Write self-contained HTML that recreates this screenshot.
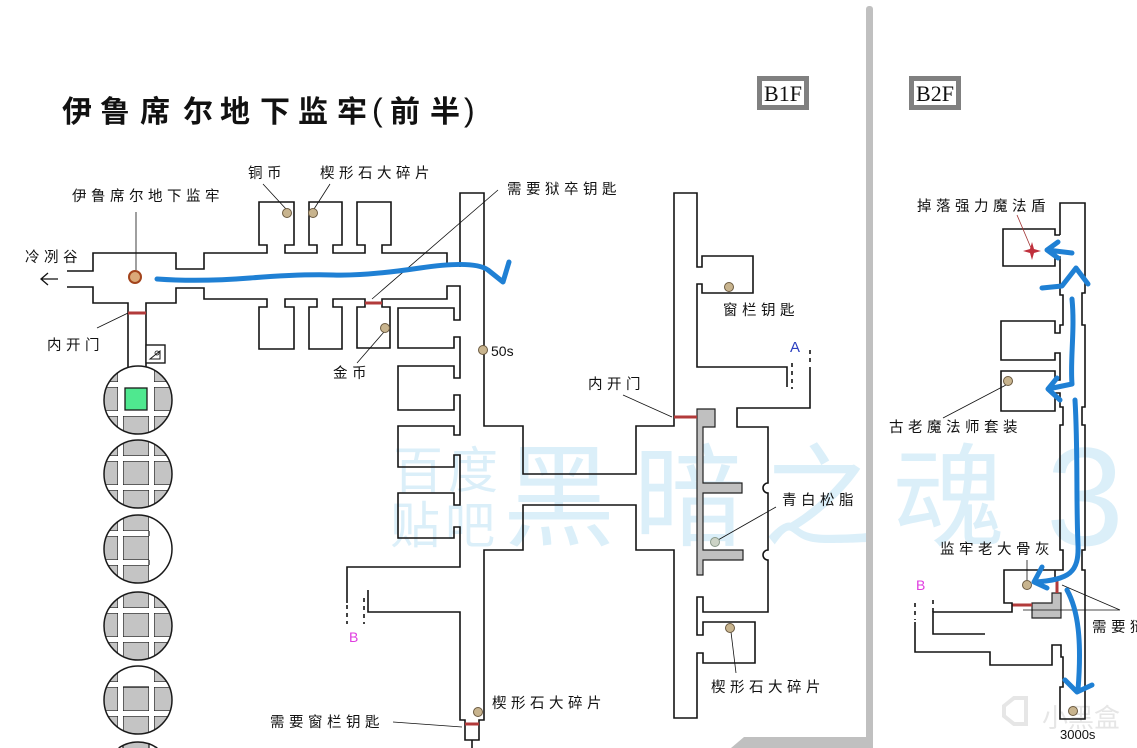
<!DOCTYPE html>
<html><head><meta charset="utf-8">
<style>
html,body{margin:0;padding:0;background:#fff;width:1137px;height:748px;overflow:hidden;}
svg{display:block;overflow:hidden;}
.w{fill:none;stroke:#141414;stroke-width:1.6;stroke-linejoin:miter;}
.d{fill:none;stroke:#141414;stroke-width:1.6;stroke-dasharray:4 4;}
.ln{stroke:#111;stroke-width:0.8;fill:none;}
.t{font-family:"Liberation Sans","Noto Sans CJK SC",sans-serif;font-size:14.5px;letter-spacing:4.5px;fill:#111;}
.ti{font-family:"Liberation Sans","Noto Sans CJK SC",sans-serif;font-size:30px;font-weight:bold;fill:#111;}
.red{stroke:#b23a3a;stroke-width:3;fill:none;}
.blue{stroke:#1f80d4;stroke-width:5;fill:none;stroke-linecap:round;stroke-linejoin:round;}
.dot{fill:#c8b48e;stroke:#6b5a40;stroke-width:1;}
.wm{font-family:"Liberation Sans","Noto Sans CJK SC",sans-serif;fill:#dbeff9;}
.gr{fill:#c4c4c4;}
.st{fill:#fff;stroke:#1a1a1a;stroke-width:1.2;}
.sn{fill:#fff;stroke:none;}
</style></head>
<body>
<svg width="1137" height="748" viewBox="0 0 1137 748" xmlns="http://www.w3.org/2000/svg">
<defs><clipPath id="cc"><circle cx="0" cy="0" r="34"/></clipPath>
<clipPath id="cap"><path d="M118.7,748 A34,34 0 0 1 157.3,748 Z"/></clipPath></defs>

<!-- watermarks -->
<text class="wm" x="393" y="488" font-size="50" letter-spacing="5">百度</text>
<text class="wm" x="390" y="543" font-size="50" letter-spacing="5">贴吧</text>
<text class="wm" x="503" y="537" font-size="112" letter-spacing="18">黑暗之魂</text>
<text class="wm" x="1046" y="545" font-size="140" style="font-family:'Liberation Sans',sans-serif">3</text>
<text x="1042" y="727" font-size="26" fill="#e6e6e6" style="font-family:'Liberation Sans','Noto Sans CJK SC',sans-serif">小黑盒</text>
<path d="M1004,706 l10,-8 l12,0 l0,26 l-12,0 l-10,-8 z" fill="none" stroke="#e6e6e6" stroke-width="4"/>

<!-- dividers -->
<rect x="866" y="6" width="7" height="736" rx="3" fill="#c0c0c0"/>
<polygon points="731,748 744,737 873,737 873,748" fill="#c0c0c0"/>

<!-- title -->
<text class="ti" x="62" y="122">伊</text>
<text class="ti" x="100" y="122">鲁</text>
<text class="ti" x="140" y="122">席</text>
<text class="ti" x="183" y="122">尔</text>
<text class="ti" x="220" y="122">地</text>
<text class="ti" x="260" y="122">下</text>
<text class="ti" x="298" y="122">监</text>
<text class="ti" x="337" y="122">牢</text>
<text x="372" y="121" font-size="32" fill="#111" style="font-family:'Liberation Sans',sans-serif">(</text>
<text class="ti" x="390" y="122">前</text>
<text class="ti" x="430" y="122">半</text>
<text x="464" y="121" font-size="32" fill="#111" style="font-family:'Liberation Sans',sans-serif">)</text>

<!-- floor labels -->
<rect x="759.5" y="78.5" width="47" height="29" fill="#fff" stroke="#808080" stroke-width="5"/>
<text x="783" y="101" font-size="22" text-anchor="middle" fill="#111" style="font-family:'Liberation Serif',serif">B1F</text>
<rect x="911.5" y="78.5" width="47" height="29" fill="#fff" stroke="#808080" stroke-width="5"/>
<text x="935" y="101" font-size="22" text-anchor="middle" fill="#111" style="font-family:'Liberation Serif',serif">B2F</text>

<!-- B1F walls -->
<path class="w" d="M67,271 H93 V253 H176 V269 H204 V253 H267 V245 H259 V202 H294 V245 H285 V253 H317 V245 H309 V202 H342 V245 H333 V253 H365 V245 H357 V202 H391 V245 H382 V253 H447 V267"/>
<path class="w" d="M67,287 H93 V303 H128 V367"/>
<path class="w" d="M347,603 V567 H460 V527 H454 V538 H398 V493 H454 V505 H460 V455 H454 V467 H398 V426 H454 V435 H460 V395 H454 V410 H398 V366 H454 V378 H460 V337 H454 V348 H398 V308 H454 V320 H460 V286 H447 V299 H382 V307 H390 V348 H357 V307 H365 V299 H333 V307 H342 V349 H309 V307 H317 V299 H285 V307 H294 V349 H259 V307 H267 V299 H204 V288 H176 V303 H146 V367"/>
<path class="w" d="M460,267 V193 H484 V426 H523 V474 H636 V426 H674 V193 H697 V267 H702 V256 H753 V293 H702 V284 H697 V367 H787 V387"/>
<path class="w" d="M810,367 V408 H737 V427 H768 V483 A5,5 0 0 0 768,493 V550 A5,5 0 0 0 768,560 V612 H703 V597 H697 V635 H703 V622 H755 V663 H703 V653 H697 V718 H674 V550 H636 V505 H523 V550 H484 V720 H479 V740 H465 V720 H460 V612 H368 V590"/>
<path class="d" d="M792,363 V389 M810,350 V366 M347,605 V624 M364,598 V624"/>
<path class="w" d="M472,740 V748"/>
<!-- small icon box -->
<rect x="146" y="345" width="19" height="18" fill="#fff" stroke="#1a1a1a" stroke-width="1.4"/>
<path d="M150,359 L160,359 L160,351 Z" fill="none" stroke="#1a1a1a" stroke-width="1"/>
<circle cx="157" cy="353" r="2" fill="none" stroke="#1a1a1a" stroke-width="0.8"/>

<!-- gray blocks -->
<polygon points="697,409 715,409 715,427 703,427 703,483 742,483 742,493 703,493 703,550 743,550 743,560 703,560 703,575 697,575" fill="#c0c0c0" stroke="#222" stroke-width="1.2"/>
<polygon points="1052,593 1061,593 1061,618 1032,618 1032,603 1052,603" fill="#c0c0c0" stroke="#222" stroke-width="1.2"/>

<!-- circles -->
<g transform="translate(138,400)"><g clip-path="url(#cc)">
<rect x="-40" y="-40" width="80" height="80" class="gr"/>
<rect x="-20" y="-40" width="5" height="80" class="st"/><rect x="11" y="-40" width="5" height="80" class="st"/>
<rect x="-40" y="-18" width="80" height="5" class="st"/><rect x="-40" y="11" width="80" height="5" class="st"/>
<rect x="-20" y="-40" width="5" height="80" class="sn"/><rect x="11" y="-40" width="5" height="80" class="sn"/>
<rect x="-40" y="-18" width="80" height="5" class="sn"/><rect x="-40" y="11" width="80" height="5" class="sn"/>
<rect x="-20" y="-40" width="36" height="51" class="sn"/>
<rect x="-13" y="-12" width="22" height="22" fill="#4fe88f" stroke="#1a1a1a" stroke-width="1.3"/>
</g><circle r="34" fill="none" stroke="#1a1a1a" stroke-width="1.5"/></g>

<g transform="translate(138,474)"><g clip-path="url(#cc)">
<rect x="-40" y="-40" width="80" height="80" class="gr"/>
<rect x="-20" y="-40" width="5" height="80" class="st"/><rect x="11" y="-40" width="5" height="80" class="st"/>
<rect x="-40" y="-18" width="80" height="5" class="st"/><rect x="-40" y="11" width="80" height="5" class="st"/>
<rect x="-20" y="-40" width="5" height="80" class="sn"/><rect x="11" y="-40" width="5" height="80" class="sn"/>
<rect x="-40" y="-18" width="80" height="5" class="sn"/><rect x="-40" y="11" width="80" height="5" class="sn"/>
</g><circle r="34" fill="none" stroke="#1a1a1a" stroke-width="1.5"/></g>

<g transform="translate(138,549)"><g clip-path="url(#cc)">
<rect x="-40" y="-40" width="80" height="80" class="gr"/>
<rect x="-20" y="-40" width="5" height="80" class="st"/><rect x="11" y="-40" width="5" height="80" class="st"/>
<rect x="-40" y="-18" width="80" height="5" class="st"/><rect x="-40" y="11" width="80" height="5" class="st"/>
<rect x="-20" y="-40" width="5" height="80" class="sn"/><rect x="11" y="-40" width="5" height="80" class="sn"/>
<rect x="-40" y="-18" width="80" height="5" class="sn"/><rect x="-40" y="11" width="80" height="5" class="sn"/>
<rect x="11" y="-40" width="40" height="80" class="sn"/>
<path d="M11,-18 V-13 M11,11 V16" stroke="#1a1a1a" stroke-width="1.2"/>
</g><circle r="34" fill="none" stroke="#1a1a1a" stroke-width="1.5"/></g>

<g transform="translate(138,626)"><g clip-path="url(#cc)">
<rect x="-40" y="-40" width="80" height="80" class="gr"/>
<rect x="-20" y="-40" width="5" height="80" class="st"/><rect x="11" y="-40" width="5" height="80" class="st"/>
<rect x="-40" y="-18" width="80" height="5" class="st"/><rect x="-40" y="11" width="80" height="5" class="st"/>
<rect x="-20" y="-40" width="5" height="80" class="sn"/><rect x="11" y="-40" width="5" height="80" class="sn"/>
<rect x="-40" y="-18" width="80" height="5" class="sn"/><rect x="-40" y="11" width="80" height="5" class="sn"/>
</g><circle r="34" fill="none" stroke="#1a1a1a" stroke-width="1.5"/></g>

<g transform="translate(138,700)"><g clip-path="url(#cc)">
<rect x="-40" y="-40" width="80" height="80" class="gr"/>
<rect x="-20" y="-40" width="5" height="80" class="st"/><rect x="11" y="-40" width="5" height="80" class="st"/>
<rect x="-40" y="-18" width="80" height="5" class="st"/><rect x="-40" y="11" width="80" height="5" class="st"/>
<rect x="-20" y="-40" width="5" height="80" class="sn"/><rect x="11" y="-40" width="5" height="80" class="sn"/>
<rect x="-40" y="-18" width="80" height="5" class="sn"/><rect x="-40" y="11" width="80" height="5" class="sn"/>
<rect x="-20" y="-40" width="36" height="27" class="sn"/>
<path d="M-15,-13 H11" stroke="#1a1a1a" stroke-width="1.2"/>
</g><circle r="34" fill="none" stroke="#1a1a1a" stroke-width="1.5"/></g>

<!-- partial 6th circle (cap only, inside frame) -->
<g clip-path="url(#cap)">
<rect x="118" y="741" width="40" height="7" class="gr"/>
<rect x="118" y="741" width="5" height="7" class="sn"/>
<rect x="149" y="741" width="5" height="7" class="sn"/>
<path d="M123,741 V748 M149,741 V748" stroke="#1a1a1a" stroke-width="1.2"/>
</g>
<path d="M118.7,748 A34,34 0 0 1 157.3,748" fill="none" stroke="#1a1a1a" stroke-width="1.5"/>

<!-- red doors -->
<path class="red" d="M128,313 H146 M365,303 H382 M674,417 H697 M465,724 H479 M1057,577 V593 M1012,605 H1032"/>

<!-- B2F walls -->
<path class="w" d="M1060,235 H1055 V229 H1003 V266 H1055 V257 H1060 V295 H1063 V325 H1060 V333 H1055 V321 H1001 V360 H1055 V353 H1060 V380 H1055 V371 H1001 V411 H1055 V393 H1060 V407 H1063 V425 H1060 V550 H1063 V570 H1004 V603 H1012 V612 H933 V634 H985"/>
<path class="w" d="M1060,235 V203 H1085 V293 H1082 V325 H1085 V407 H1082 V425 H1085 V550 H1082 V570 H1085 V719 H1060 V687 H1063 V657 H1061 V645 H1052 V665 H990 V652 H915 V622"/>
<path class="w" d="M1055,570 V577"/>
<path class="d" d="M915,603 V620 M933,600 V612"/>

<!-- leader lines -->
<path class="ln" d="M136,212 V270 M263,184 L286,209 M330,184 L314,209 M498,190 L372,299 M357,363 L384,332 M97,328 L128,313 M623,395 L672,417 M776,507 L718,540 M731,632 L736,673 M393,722 L462,727 M943,418 L1006,385 M1027,560 V580 M1120,610 L1062,585 M1120,610 L1023,610"/>
<path d="M1017,215 L1031,248" stroke="#a03030" stroke-width="0.8" fill="none"/>

<!-- arrow left of 冷冽谷 -->
<path d="M41,279 H58 M48,273 L41,279 L48,285" stroke="#111" stroke-width="1.3" fill="none"/>

<!-- dots -->
<circle cx="135" cy="277" r="6" fill="#dba978" stroke="#a3441c" stroke-width="2"/>
<circle class="dot" cx="287" cy="213" r="4.5"/>
<circle class="dot" cx="313" cy="213" r="4.5"/>
<circle class="dot" cx="385" cy="328" r="4.5"/>
<circle class="dot" cx="483" cy="350" r="4.5"/>
<circle class="dot" cx="729" cy="287" r="4.5"/>
<circle cx="715" cy="542" r="4.5" fill="#ccd3c6" stroke="#8a9a8a" stroke-width="1"/>
<circle class="dot" cx="730" cy="628" r="4.5"/>
<circle class="dot" cx="478" cy="712" r="4.5"/>
<circle class="dot" cx="1008" cy="381" r="4.5"/>
<circle class="dot" cx="1027" cy="585" r="4.5"/>
<circle class="dot" cx="1073" cy="711" r="4.5"/>
<!-- red star -->
<path d="M1032,242 L1034,249 L1041,251 L1034,253 L1032,260 L1030,253 L1023,251 L1030,249 Z" fill="#c0303c"/>

<!-- blue paths -->
<path class="blue" d="M157,279 Q200,282 250,278 T333,275 T420,268 T488,270 L503,282 L509,262"/>
<path class="blue" d="M1058,242 L1047,250 L1058,258 M1047,250 L1072,253"/>
<path class="blue" d="M1042,288 L1062,286 L1076,268 L1088,284"/>
<path class="blue" d="M1072,299 C1075,330 1070,360 1072,384 L1048,389 M1057,378 L1048,389 L1060,400"/>
<path class="blue" d="M1075,400 C1078,450 1076,500 1078,545 C1079,572 1070,580 1034,582 M1042,567 L1034,582 L1047,588"/>
<path class="blue" d="M1067,590 C1078,610 1082,640 1078,690 M1065,680 L1077,692 L1092,685"/>

<!-- labels -->
<text class="t" x="72" y="201">伊鲁席尔地下监牢</text>
<text class="t" x="25" y="262">冷冽谷</text>
<text class="t" x="47" y="350">内开门</text>
<text class="t" x="248" y="178">铜币</text>
<text class="t" x="320" y="178">楔形石大碎片</text>
<text class="t" x="507" y="194">需要狱卒钥匙</text>
<text class="t" x="333" y="378">金币</text>
<text x="491" y="356" font-size="14" fill="#111" style="font-family:'Liberation Sans',sans-serif">50s</text>
<text class="t" x="723" y="315">窗栏钥匙</text>
<text x="790" y="352" font-size="15" fill="#2a3fc0" style="font-family:'Liberation Sans',sans-serif">A</text>
<text class="t" x="588" y="389">内开门</text>
<text class="t" x="782" y="505">青白松脂</text>
<text class="t" x="711" y="692">楔形石大碎片</text>
<text class="t" x="492" y="708">楔形石大碎片</text>
<text class="t" x="270" y="727">需要窗栏钥匙</text>
<text x="349" y="642" font-size="14" fill="#e03ce0" style="font-family:'Liberation Sans',sans-serif">B</text>
<text class="t" x="917" y="211">掉落强力魔法盾</text>
<text class="t" x="889" y="432">古老魔法师套装</text>
<text class="t" x="940" y="554">监牢老大骨灰</text>
<text class="t" x="1092" y="632">需要狱卒</text>
<text x="916" y="590" font-size="14" fill="#e03ce0" style="font-family:'Liberation Sans',sans-serif">B</text>
<text x="1060" y="739" font-size="13" fill="#111" style="font-family:'Liberation Sans',sans-serif">3000s</text>
</svg>
</body></html>
